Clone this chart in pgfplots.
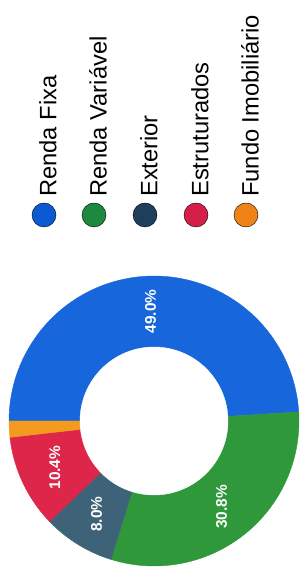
\documentclass[border=0pt]{standalone}
\usepackage{fontspec}
\setmainfont{Liberation Sans}
\usepackage{pgfplots}
\usepackage{pgfplotstable}
\pgfplotsset{compat=1.18}
\definecolor{cRF}{RGB}{24,102,220}
\definecolor{cRV}{RGB}{46,152,58}
\definecolor{cEX}{RGB}{62,99,120}
\definecolor{cES}{RGB}{222,38,74}
\definecolor{cFI}{RGB}{242,155,30}
\definecolor{lRF}{RGB}{12,90,210}
\definecolor{lRV}{RGB}{30,136,62}
\definecolor{lEX}{RGB}{30,62,92}
\definecolor{lES}{RGB}{212,32,72}
\definecolor{lFI}{RGB}{238,132,24}
\pgfplotstableread{
name value
RF 49.0
RV 30.8
EX 8.0
ES 10.4
FI 1.8
}\shares
\pgfplotstablegetelem{0}{value}\of\shares \let\vA\pgfplotsretval
\pgfplotstablegetelem{1}{value}\of\shares \let\vB\pgfplotsretval
\pgfplotstablegetelem{2}{value}\of\shares \let\vC\pgfplotsretval
\pgfplotstablegetelem{3}{value}\of\shares \let\vD\pgfplotsretval
\pgfplotstablegetelem{4}{value}\of\shares \let\vE\pgfplotsretval
\pgfmathsetmacro\aA{180}
\pgfmathsetmacro\aB{\aA-3.6*\vA}
\pgfmathsetmacro\aC{\aB-3.6*\vB}
\pgfmathsetmacro\aD{\aC-3.6*\vC}
\pgfmathsetmacro\aE{\aD-3.6*\vD}
\pgfmathsetmacro\aF{\aE-3.6*\vE}
\def\cx{154}\def\cy{152}\def\R{145}\def\r{74}\def\rm{109.5}
\pgfmathsetmacro\mA{(\aA+\aB)/2}
\pgfmathsetmacro\mB{(\aB+\aC)/2}
\pgfmathsetmacro\mC{(\aC+\aD)/2}
\pgfmathsetmacro\mD{(\aD+\aE)/2}
\begin{document}
\begin{tikzpicture}
\begin{axis}[scale only axis, width=302bp, height=573bp,
  xmin=0, xmax=302, ymin=0, ymax=573, hide axis, clip=false]
\path[draw=none, fill=none] (axis cs:0,0) rectangle (axis cs:302,573);
\addplot[fill=cRF, draw=cRF, domain=\aB:\aA, samples=80, variable=\t] ({\cx+\R*cos(\t)},{\cy+\R*sin(\t)}) -- (axis cs:\cx,\cy) -- cycle;
\addplot[fill=cRV, draw=cRV, domain=\aC:\aB, samples=60, variable=\t] ({\cx+\R*cos(\t)},{\cy+\R*sin(\t)}) -- (axis cs:\cx,\cy) -- cycle;
\addplot[fill=cEX, draw=cEX, domain=\aD:\aC, samples=30, variable=\t] ({\cx+\R*cos(\t)},{\cy+\R*sin(\t)}) -- (axis cs:\cx,\cy) -- cycle;
\addplot[fill=cES, draw=cES, domain=\aE:\aD, samples=30, variable=\t] ({\cx+\R*cos(\t)},{\cy+\R*sin(\t)}) -- (axis cs:\cx,\cy) -- cycle;
\addplot[fill=cFI, draw=cFI, domain=\aF:\aE, samples=10, variable=\t] ({\cx+\R*cos(\t)},{\cy+\R*sin(\t)}) -- (axis cs:\cx,\cy) -- cycle;
\addplot[fill=white, draw=white, domain=0:360, samples=120, variable=\t] ({\cx+\r*cos(\t)},{\cy+\r*sin(\t)}) -- cycle;
\tikzset{pl/.style={rotate=90, text=white, inner sep=0pt, font=\bfseries\fontsize{15.5}{15.5}\selectfont}}
\node[pl] at (axis cs:{\cx+\rm*cos(\mA)},{\cy+\rm*sin(\mA)}) {49.0\%};
\node[pl] at (axis cs:{\cx+\rm*cos(\mB)},{\cy+\rm*sin(\mB)}) {30.8\%};
\node[pl] at (axis cs:{\cx+\rm*cos(\mC)},{\cy+\rm*sin(\mC)}) {8.0\%};
\node[pl] at (axis cs:{\cx+\rm*cos(\mD)},{\cy+\rm*sin(\mD)}) {10.4\%};
% legend
\addplot[only marks, mark=*, mark size=12bp, mark options={fill=lRF, draw=none}] coordinates {(44,358)};
\addplot[only marks, mark=*, mark size=12bp, mark options={fill=lRV, draw=none}] coordinates {(94,358)};
\addplot[only marks, mark=*, mark size=12bp, mark options={fill=lEX, draw=none}] coordinates {(145,358)};
\addplot[only marks, mark=*, mark size=12bp, mark options={fill=lES, draw=none}] coordinates {(196,358)};
\addplot[only marks, mark=*, mark size=12bp, mark options={fill=lFI, draw=none}] coordinates {(246,358)};
\tikzset{lg/.style={rotate=90, anchor=west, inner sep=0pt, font=\fontsize{23.8}{23.8}\selectfont}}
\node[lg] at (axis cs:48,376) {Renda Fixa};
\node[lg] at (axis cs:98,376) {Renda Variável};
\node[lg] at (axis cs:149,376) {Exterior};
\node[lg] at (axis cs:200,376) {Estruturados};
\node[lg] at (axis cs:250,376) {Fundo Imobiliário};
\end{axis}
\end{tikzpicture}
\end{document}
